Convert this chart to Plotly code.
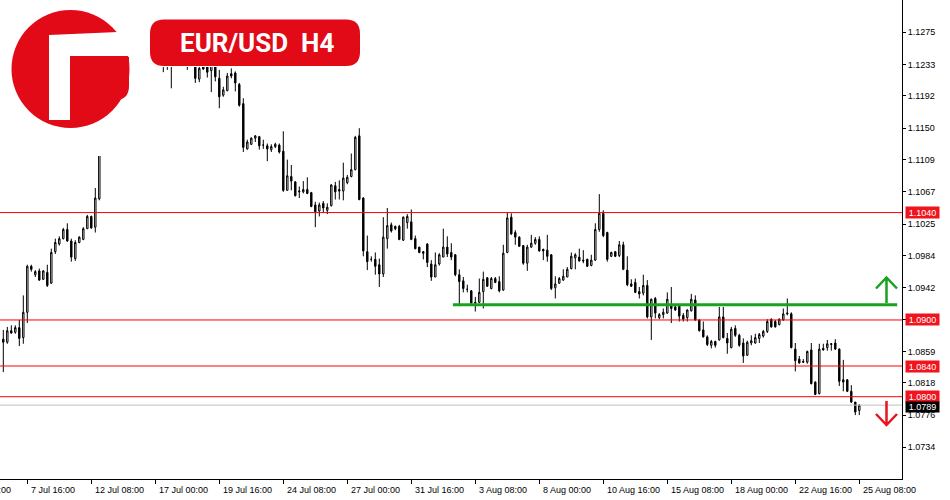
import plotly.graph_objects as go

# ---------------- data (EUR/USD H4, one value per bar) ----------------
open_ = [1.0875,1.0871,1.0886,1.0884,1.0890,1.0877,1.0910,1.0970,1.0959,1.0964,
         1.0953,1.0962,1.0948,1.0989,1.0999,1.1006,1.1018,1.1003,1.0980,1.1001,
         1.1005,1.1019,1.1035,1.1021,1.1058,1.1125,1.1130,1.1140,1.1155,1.1165,
         1.1200,1.1215,1.1222,1.1235,1.1230,1.1242,1.1238,1.1240,1.1245,1.1242,
         1.1250,1.1238,1.1245,1.1240,1.1255,1.1262,1.1250,1.1240,1.1248,1.1214,
         1.1232,1.1230,1.1225,1.1235,1.1215,1.1193,1.1199,1.1221,1.1222,1.1207,
         1.1182,1.1123,1.1129,1.1137,1.1139,1.1128,1.1127,1.1122,1.1126,1.1128,
         1.1120,1.1069,1.1087,1.1080,1.1067,1.1067,1.1070,1.1066,1.1050,1.1042,
         1.1052,1.1043,1.1049,1.1075,1.1070,1.1068,1.1079,1.1087,1.1096,1.1140,
         1.1059,1.0989,1.0979,1.0979,1.0972,1.0960,1.1006,1.1024,1.1022,1.1022,
         1.1004,1.1027,1.1028,1.1006,1.0995,1.0989,1.0999,1.0973,1.0956,1.0973,
         1.0982,1.0995,1.0988,1.0985,1.0959,1.0951,1.0940,1.0938,1.0923,1.0923,
         1.0937,1.0955,1.0941,1.0954,1.0950,1.0939,1.0988,1.1034,1.1014,1.1008,
         1.0997,1.0974,1.0995,1.1000,1.1005,1.0992,1.0991,1.0985,1.0942,1.0948,
         1.0952,1.0956,1.0967,1.0981,1.0982,1.0978,1.0979,1.0971,1.0978,1.1018,
         1.1039,1.1014,1.0983,1.0989,1.0984,1.0998,1.0965,1.0947,1.0949,1.0937,
         1.0935,1.0945,1.0904,1.0928,1.0903,1.0907,1.0909,1.0920,1.0917,1.0918,
         1.0906,1.0903,1.0912,1.0926,1.0900,1.0887,1.0878,1.0867,1.0872,1.0874,
         1.0904,1.0876,1.0864,1.0889,1.0880,1.0870,1.0854,1.0870,1.0870,1.0876,
         1.0879,1.0885,1.0901,1.0898,1.0894,1.0900,1.0908,1.0908,1.0862,1.0849,
         1.0846,1.0845,1.0861,1.0819,1.0804,1.0863,1.0864,1.0868,1.0870,1.0862,
         1.0822,1.0822,1.0807,1.0793,1.0782]
high = [1.0887,1.0891,1.0893,1.0893,1.0900,1.0932,1.0972,1.0972,1.0965,1.0967,
        1.0965,1.0972,1.0993,1.1006,1.1009,1.1020,1.1026,1.1006,1.1004,1.1009,
        1.1021,1.1037,1.1036,1.1072,1.1130,1.1138,1.1145,1.1160,1.1170,1.1205,
        1.1225,1.1230,1.1240,1.1245,1.1248,1.1250,1.1246,1.1252,1.1255,1.1258,
        1.1262,1.1255,1.1258,1.1262,1.1270,1.1276,1.1260,1.1255,1.1252,1.1235,
        1.1240,1.1238,1.1242,1.1240,1.1226,1.1204,1.1222,1.1228,1.1224,1.1209,
        1.1189,1.1135,1.1138,1.1141,1.1140,1.1135,1.1130,1.1129,1.1131,1.1130,
        1.1146,1.1109,1.1102,1.1081,1.1074,1.1081,1.1086,1.1067,1.1054,1.1053,
        1.1055,1.1052,1.1077,1.1080,1.1082,1.1105,1.1089,1.1117,1.1140,1.1150,
        1.1060,1.1010,1.0983,1.0988,1.0980,1.1034,1.1046,1.1027,1.1023,1.1024,
        1.1035,1.1038,1.1044,1.1010,1.0995,1.0990,1.1000,1.0978,1.0988,1.0987,
        1.1019,1.1009,1.1000,1.0986,1.0966,1.0956,1.0946,1.0939,1.0930,1.0954,
        1.0963,1.0956,1.0956,1.0956,1.0957,1.0998,1.1040,1.1039,1.1017,1.1009,
        1.0997,1.0998,1.1011,1.1008,1.1009,1.0993,1.1011,1.0986,1.0957,1.0956,
        1.0966,1.0969,1.0988,1.0987,1.0993,1.0991,1.0980,1.0985,1.1026,1.1064,
        1.1043,1.1015,1.0989,1.0990,1.1003,1.1002,1.0983,1.0953,1.0954,1.0943,
        1.0959,1.0952,1.0928,1.0930,1.0909,1.0915,1.0936,1.0943,1.0920,1.0921,
        1.0909,1.0914,1.0934,1.0932,1.0901,1.0898,1.0880,1.0874,1.0873,1.0917,
        1.0917,1.0883,1.0891,1.0893,1.0882,1.0876,1.0873,1.0880,1.0882,1.0883,
        1.0887,1.0901,1.0902,1.0900,1.0902,1.0915,1.0928,1.0910,1.0870,1.0853,
        1.0849,1.0860,1.0870,1.0820,1.0869,1.0869,1.0874,1.0870,1.0875,1.0863,
        1.0848,1.0823,1.0815,1.0793,1.0790]
low = [1.0832,1.0869,1.0882,1.0882,1.0866,1.0869,1.0896,1.0963,1.0956,1.0951,
       1.0952,1.0943,1.0947,1.0986,1.0997,1.1005,1.1002,1.0976,1.0977,1.1000,
       1.1004,1.1019,1.1019,1.1014,1.1056,1.1118,1.1125,1.1135,1.1145,1.1160,
       1.1195,1.1200,1.1215,1.1225,1.1228,1.1232,1.1234,1.1236,1.1238,1.1238,
       1.1223,1.1226,1.1202,1.1232,1.1240,1.1245,1.1226,1.1232,1.1209,1.1210,
       1.1226,1.1216,1.1197,1.1211,1.1176,1.1191,1.1198,1.1215,1.1198,1.1178,
       1.1119,1.1122,1.1128,1.1132,1.1122,1.1123,1.1107,1.1119,1.1124,1.1117,
       1.1067,1.1069,1.1069,1.1061,1.1059,1.1065,1.1064,1.1047,1.1021,1.1035,
       1.1040,1.1038,1.1048,1.1057,1.1057,1.1056,1.1077,1.1086,1.1095,1.1056,
       1.0983,1.0965,1.0976,1.0959,1.0943,1.0956,1.0993,1.1014,1.1017,1.1004,
       1.1003,1.1019,1.1004,1.0992,1.0987,1.0979,1.0969,1.0951,1.0956,1.0971,
       1.0982,1.0982,1.0978,1.0957,1.0918,1.0936,1.0936,1.0921,1.0911,1.0922,
       1.0915,1.0943,1.0940,1.0948,1.0936,1.0938,1.0987,1.1011,1.0998,1.0996,
       1.0972,1.0964,1.0994,1.0998,1.0989,1.0978,1.0976,1.0939,1.0928,1.0947,
       1.0951,1.0956,1.0966,1.0966,1.0976,1.0974,1.0969,1.0970,1.0977,1.1015,
       1.1008,1.0976,1.0982,1.0982,1.0982,1.0965,1.0944,1.0943,1.0935,1.0928,
       1.0932,1.0902,1.0874,1.0902,1.0901,1.0902,1.0908,1.0896,1.0912,1.0898,
       1.0898,1.0898,1.0911,1.0899,1.0885,1.0877,1.0866,1.0863,1.0864,1.0873,
       1.0876,1.0856,1.0863,1.0878,1.0865,1.0844,1.0853,1.0867,1.0869,1.0870,
       1.0877,1.0883,1.0890,1.0890,1.0893,1.0899,1.0906,1.0863,1.0833,1.0843,
       1.0844,1.0843,1.0816,1.0802,1.0803,1.0860,1.0860,1.0860,1.0861,1.0814,
       1.0807,1.0806,1.0792,1.0776,1.0776]
close = [1.0871,1.0886,1.0883,1.0890,1.0876,1.0910,1.0970,1.0966,1.0963,1.0952,
         1.0964,1.0945,1.0988,1.1001,1.1006,1.1018,1.1003,1.0982,1.1001,1.1008,
         1.1019,1.1035,1.1020,1.1059,1.1125,1.1130,1.1140,1.1155,1.1165,1.1200,
         1.1215,1.1222,1.1235,1.1230,1.1242,1.1238,1.1240,1.1245,1.1242,1.1250,
         1.1238,1.1245,1.1240,1.1255,1.1262,1.1250,1.1240,1.1248,1.1215,1.1228,
         1.1227,1.1223,1.1235,1.1217,1.1191,1.1200,1.1218,1.1218,1.1209,1.1180,
         1.1125,1.1132,1.1137,1.1140,1.1127,1.1128,1.1123,1.1126,1.1129,1.1119,
         1.1069,1.1088,1.1081,1.1062,1.1068,1.1070,1.1065,1.1048,1.1041,1.1050,
         1.1046,1.1047,1.1076,1.1067,1.1068,1.1085,1.1086,1.1096,1.1138,1.1057,
         1.0990,1.0976,1.0979,1.0970,1.0960,1.1008,1.1023,1.1016,1.1019,1.1005,
         1.1034,1.1035,1.1005,1.0993,1.0988,1.0987,1.0975,1.0956,1.0972,1.0985,
         1.0995,1.0986,1.0982,1.0959,1.0950,1.0941,1.0940,1.0922,1.0922,1.0936,
         1.0953,1.0944,1.0954,1.0949,1.0938,1.0987,1.1033,1.1012,1.1008,1.0996,
         1.0974,1.0995,1.1000,1.1005,1.0990,1.0990,1.0983,1.0941,1.0947,1.0954,
         1.0957,1.0966,1.0983,1.0985,1.0977,1.0977,1.0970,1.0978,1.1018,1.1039,
         1.1010,1.0979,1.0988,1.0983,1.0998,1.0966,1.0946,1.0944,1.0936,1.0934,
         1.0945,1.0904,1.0927,1.0909,1.0907,1.0910,1.0927,1.0915,1.0913,1.0905,
         1.0901,1.0913,1.0927,1.0900,1.0886,1.0878,1.0868,1.0872,1.0867,1.0904,
         1.0877,1.0870,1.0888,1.0880,1.0867,1.0853,1.0871,1.0873,1.0877,1.0881,
         1.0885,1.0898,1.0891,1.0891,1.0901,1.0908,1.0909,1.0864,1.0847,1.0844,
         1.0845,1.0859,1.0817,1.0803,1.0862,1.0861,1.0869,1.0869,1.0862,1.0820,
         1.0819,1.0807,1.0793,1.0780,1.0789]

# x-axis tick labels, one every 16 bars (first tick lies 16 bars before the first label inside view)
tick_labels = ["5 Jul 00:00", "7 Jul 16:00", "12 Jul 08:00", "17 Jul 00:00", "19 Jul 16:00",
               "24 Jul 08:00", "27 Jul 00:00", "31 Jul 16:00", "3 Aug 08:00", "8 Aug 00:00",
               "10 Aug 16:00", "15 Aug 08:00", "18 Aug 00:00", "22 Aug 16:00", "25 Aug 08:00"]
tick_first_bar = -10
tick_step = 16

# price-axis ticks
y_ticks = [1.1275, 1.1233, 1.1192, 1.1150, 1.1109, 1.1067, 1.1025, 1.0984, 1.0942,
           1.0901, 1.0859, 1.0818, 1.0776, 1.0734]

# horizontal levels
red_levels = [1.1040, 1.0900, 1.0840, 1.0800]
current_price = 1.0789
green_level = 1.0920
green_start_bar = 112.4

title_text = "EUR/USD\u00a0\u00a0H4"

# ---------------- layout geometry ----------------
W, H = 950, 500
ML, MR, MT, MB = 0, 48, 0, 21
PW, PH = W - ML - MR, H - MT - MB
x_range = [-0.825, 224.675]
y_range = [1.06927, 1.13171]

def px(xp):  # pixel -> paper x
    return xp / PW
def py(yp):  # pixel -> paper y
    return 1 - yp / PH

bars = list(range(len(close)))

fig = go.Figure()
fig.add_trace(go.Candlestick(
    x=bars, open=open_, high=high, low=low, close=close,
    increasing=dict(fillcolor="white", line=dict(color="black", width=1)),
    decreasing=dict(fillcolor="black", line=dict(color="black", width=1)),
    whiskerwidth=0, hoverinfo="skip", showlegend=False,
))

shapes = []
# horizontal red support / resistance lines
for lv in red_levels:
    shapes.append(dict(type="line", xref="paper", yref="y", x0=0, x1=1, y0=lv, y1=lv,
                       line=dict(color="#ff0000", width=1), layer="above"))
# current price line
shapes.append(dict(type="line", xref="paper", yref="y", x0=0, x1=1, y0=current_price, y1=current_price,
                   line=dict(color="#c0c0c0", width=1), layer="above"))
# green line
shapes.append(dict(type="line", xref="x", yref="y", x0=green_start_bar, x1=x_range[1] - 1.2,
                   y0=green_level, y1=green_level,
                   line=dict(color="#17a21f", width=3), layer="above"))
# arrows
shapes.append(dict(type="path", xref="paper", yref="paper",
                   path=f"M{px(886.5)},{py(303)} L{px(886.5)},{py(277.5)} M{px(876)},{py(288.5)} L{px(886.5)},{py(277.5)} L{px(897)},{py(288.5)}",
                   line=dict(color="#17a21f", width=2.5), layer="above"))
shapes.append(dict(type="path", xref="paper", yref="paper",
                   path=f"M{px(886.5)},{py(401)} L{px(886.5)},{py(425)} M{px(876)},{py(414)} L{px(886.5)},{py(425)} L{px(897)},{py(414)}",
                   line=dict(color="#e8141e", width=2.5), layer="above"))

# white backgrounds behind logo and title badge
shapes.append(dict(type="rect", xref="paper", yref="paper", x0=px(0), x1=px(150), y0=py(156), y1=py(0),
                   fillcolor="white", line=dict(width=0), layer="above"))
shapes.append(dict(type="rect", xref="paper", yref="paper", x0=px(140), x1=px(362), y0=py(67), y1=py(0),
                   fillcolor="white", line=dict(width=0), layer="above"))

RED = "#e30a17"
# logo: red disc with a white "F" cut-out
cx, cy, r = 70.5, 69, 59
shapes.append(dict(type="circle", xref="paper", yref="paper", x0=px(cx - r), x1=px(cx + r),
                   y0=py(cy + r), y1=py(cy - r), fillcolor=RED, line=dict(width=0), layer="above"))
# white top bar (opens the disc at upper right)
shapes.append(dict(type="path", xref="paper", yref="paper",
                   path=f"M{px(49)},{py(35)} L{px(118)},{py(32)} L{px(135)},{py(30)} L{px(135)},{py(56)} L{px(49)},{py(56)} Z",
                   fillcolor="white", line=dict(width=0), layer="above"))
# white stem
shapes.append(dict(type="rect", xref="paper", yref="paper", x0=px(49), x1=px(70), y0=py(120), y1=py(35),
                   fillcolor="white", line=dict(width=0), layer="above"))
# red arm (rounded at right)
shapes.append(dict(type="path", xref="paper", yref="paper",
                   path=f"M{px(70)},{py(57)} L{px(129)},{py(57)} L{px(129)},{py(86)} Q{px(129)},{py(100)} {px(115)},{py(100)} L{px(70)},{py(100)} Z",
                   fillcolor=RED, line=dict(width=0), layer="above"))

# title badge (rounded rectangle)
bx0, bx1, by0, by1, br = 150, 360, 19.5, 66, 14
shapes.append(dict(type="path", xref="paper", yref="paper",
                   path=(f"M{px(bx0+br)},{py(by0)} L{px(bx1-br)},{py(by0)} Q{px(bx1)},{py(by0)} {px(bx1)},{py(by0+br)} "
                         f"L{px(bx1)},{py(by1-br)} Q{px(bx1)},{py(by1)} {px(bx1-br)},{py(by1)} "
                         f"L{px(bx0+br)},{py(by1)} Q{px(bx0)},{py(by1)} {px(bx0)},{py(by1-br)} "
                         f"L{px(bx0)},{py(by0+br)} Q{px(bx0)},{py(by0)} {px(bx0+br)},{py(by0)} Z"),
                   fillcolor=RED, line=dict(width=0), layer="above"))

annotations = []
annotations.append(dict(xref="paper", yref="paper", x=px(257), y=py(43), text=title_text, showarrow=False,
                        font=dict(family="Roboto, Open Sans, sans-serif", size=26, color="white", weight="bold"),
                        xanchor="center", yanchor="middle"))

FONT = "Tahoma, Liberation Sans, Arial, sans-serif"
# x tick labels placed just right of their tick marks
span = x_range[1] - x_range[0]
tick_bars = [tick_first_bar + i * tick_step for i in range(len(tick_labels))]
for b, lab in zip(tick_bars, tick_labels):
    annotations.append(dict(xref="paper", yref="paper", x=(b - x_range[0]) / span + 1.5 / PW, y=py(490),
                            text=lab, showarrow=False, xanchor="left", yanchor="middle",
                            font=dict(family=FONT, size=9, color="#000")))

# price tags on the right axis
for lv in red_levels:
    annotations.append(dict(xref="paper", yref="y", x=px(905), y=lv, text=f"{lv:.4f}", showarrow=False,
                            xanchor="left", yanchor="middle", bgcolor="#f0141e", width=33, height=11, borderpad=0,
                            font=dict(family=FONT, size=9, color="white")))
annotations.append(dict(xref="paper", yref="y", x=px(905), y=current_price, text=f"{current_price:.4f}", showarrow=False,
                        xanchor="left", yanchor="middle", yshift=-2, bgcolor="black", width=33, height=10, borderpad=0,
                        font=dict(family=FONT, size=9, color="white")))

fig.update_layout(
    width=W, height=H, margin=dict(l=ML, r=MR, t=MT, b=MB),
    paper_bgcolor="white", plot_bgcolor="white",
    boxgap=0.5,
    shapes=shapes, annotations=annotations,
    xaxis=dict(range=x_range, showgrid=False, zeroline=False, showline=True, linecolor="black", linewidth=1,
               ticks="outside", ticklen=4, tickcolor="black", tickvals=tick_bars,
               ticktext=[""] * len(tick_bars), rangeslider=dict(visible=False), fixedrange=True),
    yaxis=dict(range=y_range, side="right", showgrid=False, zeroline=False, showline=True, linecolor="black",
               linewidth=1, ticks="outside", ticklen=3, tickcolor="black", tickvals=y_ticks,
               ticktext=[f"{v:.4f}" for v in y_ticks],
               tickfont=dict(family=FONT, size=9, color="#000"),
               fixedrange=True),
)

fig.write_html("out.html", config={"displayModeBar": False},
               post_script="document.body.style.margin='0';document.body.style.overflow='hidden';")
